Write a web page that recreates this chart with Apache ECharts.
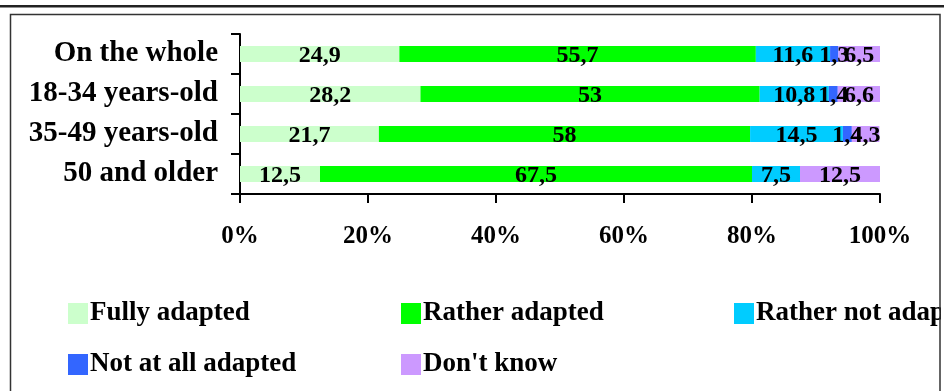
<!DOCTYPE html>
<html>
<head>
<meta charset="utf-8">
<script src="https://cdn.jsdelivr.net/npm/echarts@6/dist/echarts.min.js"></script>
<style>
  html, body { margin: 0; padding: 0; background: #fff; }
  #chart { width: 944px; height: 391px; }
</style>
</head>
<body>
<div id="chart"></div>
<script>
// Age groups (top to bottom)
const categories = ['On the whole', '18-34 years-old', '35-49 years-old', '50 and older'];

// Answer shares, % per group
const fullyAdapted    = [24.9, 28.2, 21.7, 12.5];
const ratherAdapted   = [55.7, 53, 58, 67.5];
const ratherNotAdapted = [11.6, 10.8, 14.5, 7.5];
const notAtAllAdapted = [1.3, 1.4, 1.4, 0];
const dontKnow        = [6.5, 6.6, 4.3, 12.5];

const seriesNames = ['Fully adapted', 'Rather adapted', 'Rather not adapted', 'Not at all adapted', "Don't know"];
const seriesColors = ['#CCFFCC', '#00FF00', '#00CCFF', '#3366FF', '#CC99FF'];
const seriesValues = [fullyAdapted, ratherAdapted, ratherNotAdapted, notAtAllAdapted, dontKnow];

const xTicks = [0, 20, 40, 60, 80, 100];

const FONT = '"Liberation Serif", "Times New Roman", serif';

const chart = echarts.init(document.getElementById('chart'), null, { renderer: 'canvas' });

const series = seriesNames.map((name, i) => ({
  name: name,
  type: 'bar',
  stack: 'total',
  barWidth: 16,
  itemStyle: { color: seriesColors[i] },
  label: {
    show: true,
    position: 'inside',
    color: '#000',
    fontFamily: FONT,
    fontWeight: 'bold',
    fontSize: 24,
    offset: [0, 2],
    formatter: p => (p.value ? String(p.value).replace('.', ',') : '')
  },
  emphasis: { disabled: true },
  data: seriesValues[i]
}));

const legendText = {
  color: '#000',
  fontFamily: FONT,
  fontWeight: 'bold',
  fontSize: 27,
  lineHeight: 27,
  padding: [0, 0, 0, -3]
};

function legendColumn(left, names) {
  return {
    orient: 'vertical',
    left: left,
    top: 300,
    padding: 0,
    itemGap: 24,
    itemWidth: 20,
    itemHeight: 21,
    icon: 'rect',
    selectedMode: false,
    textStyle: legendText,
    data: names
  };
}

chart.setOption({
  animation: false,
  backgroundColor: '#fff',
  grid: { left: 240, right: 64, top: 34, bottom: 197, containLabel: false },
  xAxis: {
    type: 'value',
    min: xTicks[0],
    max: xTicks[xTicks.length - 1],
    interval: xTicks[1] - xTicks[0],
    axisLine: { show: true, lineStyle: { color: '#000', width: 2 } },
    axisTick: { show: true, length: 9, lineStyle: { color: '#000', width: 2 } },
    splitLine: { show: false },
    axisLabel: {
      margin: 30,
      color: '#000',
      fontFamily: FONT,
      fontWeight: 'bold',
      fontSize: 25,
      formatter: '{value}%'
    }
  },
  yAxis: {
    type: 'category',
    inverse: true,
    data: categories,
    axisLine: { show: true, lineStyle: { color: '#000', width: 2 } },
    axisTick: { show: true, length: 9, lineStyle: { color: '#000', width: 2 } },
    axisLabel: {
      margin: 22,
      color: '#000',
      fontFamily: FONT,
      fontWeight: 'bold',
      fontSize: 29,
      padding: [3, 0, 0, 0]
    }
  },
  legend: [
    legendColumn(68, ['Fully adapted', 'Not at all adapted']),
    legendColumn(401, ['Rather adapted', "Don't know"]),
    legendColumn(734, ['Rather not adapted'])
  ],
  graphic: [
    { type: 'rect', z: 100, shape: { x: 0, y: 5, width: 944, height: 2.5 }, style: { fill: '#222' } },
    { type: 'rect', z: 100, shape: { x: 941, y: 14, width: 4, height: 380 }, style: { fill: '#fff' } },
    { type: 'rect', z: 101, shape: { x: 10.5, y: 14.5, width: 929.5, height: 400 }, style: { fill: 'none', stroke: '#333', lineWidth: 1.5 } }
  ],
  series: series
});
</script>
</body>
</html>
